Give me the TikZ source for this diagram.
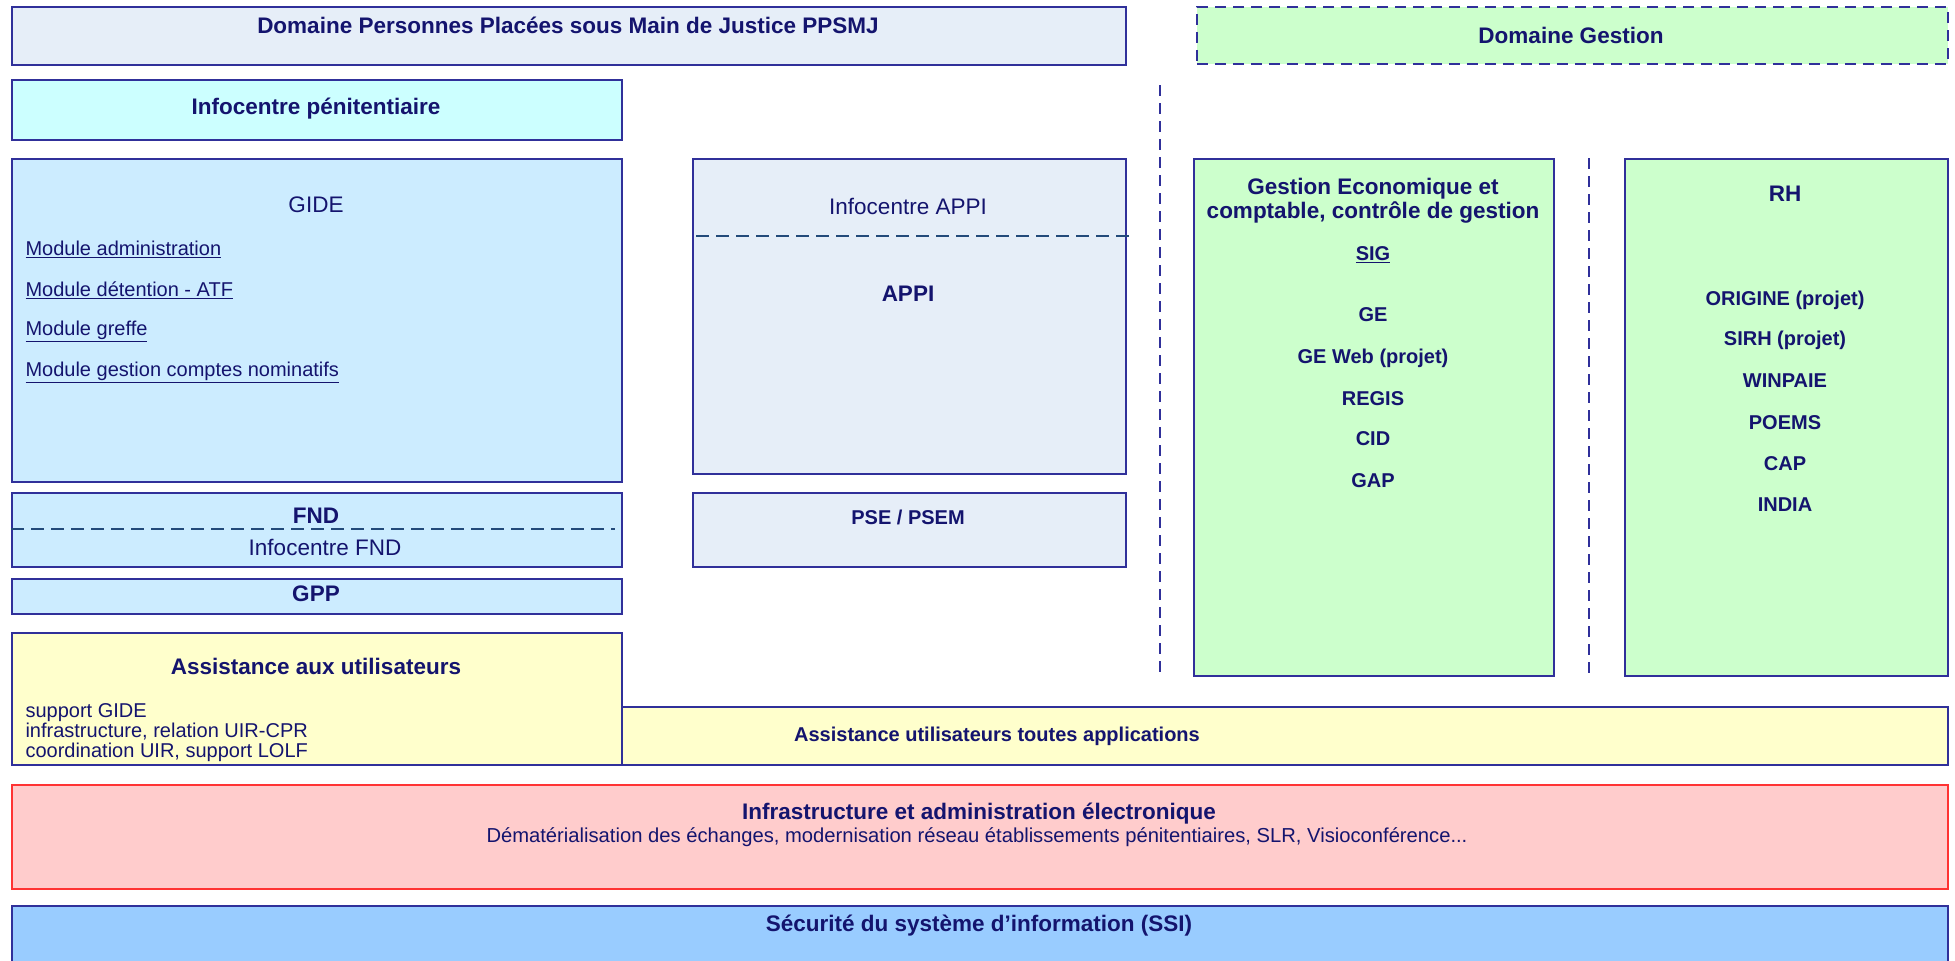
\documentclass[tikz,border=0pt]{standalone}
\usepackage{fontspec}
\setmainfont{Liberation Sans}
\usepackage{tikz}
\usetikzlibrary{backgrounds,calc}
\definecolor{ink}{HTML}{14146E}
\definecolor{rim}{HTML}{30309A}
\definecolor{tirets}{HTML}{234A7A}
\definecolor{lavande}{HTML}{E6EEF8}
\definecolor{cyanclair}{HTML}{CCFFFF}
\definecolor{bleuclair}{HTML}{CCECFF}
\definecolor{vertclair}{HTML}{CCFFCC}
\definecolor{jaune}{HTML}{FFFFCC}
\definecolor{rose}{HTML}{FFCCCC}
\definecolor{rouge}{HTML}{FF3333}
\definecolor{bleuSSI}{HTML}{99CCFF}

\begin{document}
\begin{tikzpicture}[x=1pt,y=-1pt,
  boite/.style={draw=rim,line width=1.6pt,anchor=north west,inner sep=0pt},
  titre/.style={font=\fontsize{22.5}{24}\selectfont\bfseries,text=ink,align=center},
  nom/.style={font=\fontsize{22.5}{24}\selectfont,text=ink},
  appli/.style={font=\fontsize{20}{22}\selectfont\bfseries,text=ink},
  ligne/.style={font=\fontsize{20}{20}\selectfont,text=ink,align=left,anchor=west},
  pointille/.style={draw=rim,line width=1.6pt,dash pattern=on 11pt off 7pt}]
\useasboundingbox (0,0) rectangle (1955,961);

\node[boite,fill=lavande,minimum width=1114pt,minimum height=58pt] (ppsmj) at (11,6) {};
\node[titre] (tppsmj) at (568,25) {Domaine Personnes Placées sous Main de Justice PPSMJ};

\node[boite,fill=vertclair,dash pattern=on 11pt off 7pt,minimum width=751pt,minimum height=57pt] (dgestion) at (1196,6) {};
\node[titre] (tdgestion) at (1571,35) {Domaine Gestion};

\node[boite,fill=cyanclair,minimum width=610pt,minimum height=60pt] (infopen) at (11,79) {};
\node[titre] (tinfopen) at (316,109) {Infocentre pénitentiaire};

\node[boite,fill=bleuclair,minimum width=610pt,minimum height=323pt] (gide) at (11,158) {};
\node[nom] (tgide) at (316,205) {GIDE};
\node[ligne] (madmin) at (22,249) {\underline{Module administration}};
\node[ligne] (mdet) at (22,290) {\underline{Module détention - ATF}};
\node[ligne] (mgreffe) at (22,331) {\underline{Module greffe}};
\node[ligne] (mcomptes) at (22,372) {\underline{Module gestion comptes nominatifs}};

\node[boite,fill=lavande,minimum width=433pt,minimum height=315pt] (appi) at (692,158) {};
\coordinate (appig) at (696,236);
\coordinate (appid) at (1129,236);
\draw[tirets,line width=1.6pt,dash pattern=on 13pt off 7pt] (appig) -- (appid);
\node[nom] (tinfoappi) at (908,206) {Infocentre APPI};
\node[titre] (tappi) at (908,294) {APPI};

\node[boite,fill=bleuclair,minimum width=610pt,minimum height=74pt] (fnd) at (11,492) {};
\coordinate (fndg) at (11,529);
\coordinate (fndd) at (615,529);
\draw[tirets,line width=1.6pt,dash pattern=on 13pt off 7pt] (fndg) -- (fndd);
\node[titre] (tfnd) at (316,516) {FND};
\node[nom] (tinfofnd) at (325,547) {Infocentre FND};

\node[boite,fill=bleuclair,minimum width=610pt,minimum height=35pt] (gpp) at (11,578) {};
\node[titre] (tgpp) at (316,594) {GPP};

\node[boite,fill=lavande,minimum width=433pt,minimum height=74pt] (pse) at (692,492) {};
\node[appli] (tpse) at (908,517) {PSE / PSEM};

\coordinate (sep1h) at (1160,85);
\coordinate (sep1b) at (1160,675);
\draw[pointille] (sep1h) -- (sep1b);

\node[boite,fill=vertclair,minimum width=360pt,minimum height=517pt] (geco) at (1193,158) {};
\node[titre] (tgeco) at (1373,201) {Gestion Economique et\\comptable, contrôle de gestion};
\node[appli] (sig) at (1373,255) {\underline{SIG}};
\node[appli] (ge) at (1373,315) {GE};
\node[appli] (geweb) at (1373,358) {GE Web (projet)};
\node[appli] (regis) at (1373,399) {REGIS};
\node[appli] (cid) at (1373,439) {CID};
\node[appli] (gap) at (1373,481) {GAP};

\coordinate (sep2h) at (1589,158);
\coordinate (sep2b) at (1589,675);
\draw[pointille] (sep2h) -- (sep2b);

\node[boite,fill=vertclair,minimum width=323pt,minimum height=517pt] (rh) at (1624,158) {};
\node[titre] (trh) at (1785,194) {RH};
\node[appli] (origine) at (1785,300) {ORIGINE (projet)};
\node[appli] (sirh) at (1785,340) {SIRH (projet)};
\node[appli] (winpaie) at (1785,381) {WINPAIE};
\node[appli] (poems) at (1785,423) {POEMS};
\node[appli] (cap) at (1785,464) {CAP};
\node[appli] (india) at (1785,505) {INDIA};

\node[boite,fill=jaune,minimum width=1326pt,minimum height=58pt] (assistall) at (621,706) {};
\node[appli] (tassistall) at (997,736) {Assistance utilisateurs toutes applications};

\node[boite,fill=jaune,minimum width=610pt,minimum height=132pt] (assist) at (11,632) {};
\node[titre] (tassist) at (316,666) {Assistance aux utilisateurs};
\node[ligne] (tsupport) at (22,733) {support GIDE\\infrastructure, relation UIR-CPR\\coordination UIR, support LOLF};

\node[boite,draw=rouge,fill=rose,minimum width=1936pt,minimum height=104pt] (infra) at (11,784) {};
\node[titre] (tinfra) at (979,814) {Infrastructure et administration électronique};
\node[font=\fontsize{20.2}{21}\selectfont,text=ink] (tdemat) at (977,837) {Dématérialisation des échanges, modernisation réseau établissements pénitentiaires, SLR, Visioconférence...};

\node[boite,fill=bleuSSI,minimum width=1936pt,minimum height=62pt] (ssi) at (11,905) {};
\node[titre] (tssi) at (979,926) {Sécurité du système d'information (SSI)};
\end{tikzpicture}
\end{document}
